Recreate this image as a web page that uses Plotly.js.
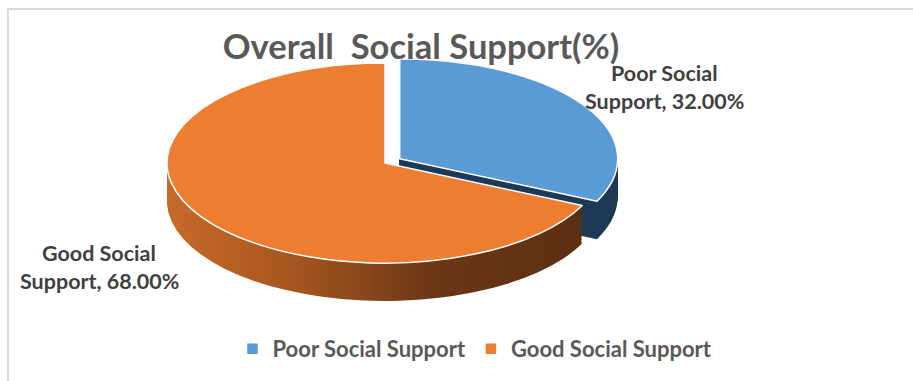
<!DOCTYPE html>
<html><head><meta charset="utf-8">
<script src="https://cdn.plot.ly/plotly-3.0.1.min.js"></script>
<style>
html,body{margin:0;padding:0;background:#fff;}
#wrap{position:relative;width:913px;height:381px;overflow:hidden;}
#chart{width:913px;height:381px;}
#frame{position:absolute;left:7px;top:8px;width:910px;height:380px;border-left:2px solid #d9d9d9;border-top:2px solid #d9d9d9;pointer-events:none;}
.pielayer path{vector-effect:non-scaling-stroke;}
</style>
</head><body><div id="wrap"><div id="chart"></div><div id="frame"></div></div>
<script>
const categories = ["Poor Social Support", "Good Social Support"];
const labelFirstLine = ["Poor Social", "Good Social"];
const labelSecondLine = ["Support", "Support"];
const values = [32.00, 68.00];
const topColors = ["#5b9bd5", "#ed7d31"];
const sideColors = ["#1f3a56", "#8c4716"];
const pulls = [0.08, 0];
const titleText = "Overall\u00a0 Social Support(%)";

const W = 913, H = 381;
const topPx = [10, 290];
const target = {cx: 385, cy: 163, rx: 218, ry: 100, depth: 38};
const maxPull = Math.max(...pulls);
const r0 = (topPx[1] - topPx[0]) / (2 + 2 * maxPull);
const sx = target.rx / r0, sy = target.ry / r0;
const depthU = target.depth / sy;
const N = 26;

function dom(off) {
  return {x: [0, 1], y: [1 - (topPx[1] + off) / H, 1 - (topPx[0] + off) / H]};
}
const base = {
  type: 'pie', labels: categories, values: values, sort: false,
  direction: 'clockwise', rotation: 0, pull: pulls,
  textinfo: 'none', hoverinfo: 'skip'
};
const traces = [];
for (let k = N; k >= 1; k--) {
  traces.push(Object.assign({}, base, {
    domain: dom(depthU * k / N), showlegend: false,
    marker: {colors: sideColors, line: {width: 0}}
  }));
}
traces.push(Object.assign({}, base, {
  domain: dom(0), showlegend: true,
  marker: {colors: topColors, line: {color: '#ffffff', width: 1.5}}
}));

const labelPos = [{x: 664, y: 73}, {x: 99, y: 253}];
const lineGap = 28;
const annotations = [];
categories.forEach((c, i) => {
  const lines = [labelFirstLine[i], labelSecondLine[i] + ", " + values[i].toFixed(2) + "%"];
  lines.forEach((t, j) => {
    annotations.push({
      text: t, showarrow: false, xref: 'paper', yref: 'paper',
      x: labelPos[i].x / W, y: 1 - (labelPos[i].y + j * lineGap) / H,
      xanchor: 'center', yanchor: 'middle',
      font: {family: 'Lato', size: 21.5, weight: 700, color: '#404040'}
    });
  });
});

const layout = {
  width: W, height: H,
  margin: {l: 0, r: 0, t: 0, b: 0},
  paper_bgcolor: '#ffffff',
  title: {text: titleText, x: 421 / W, xanchor: 'center', y: 1 - 47 / H, yanchor: 'middle',
          xref: 'container', yref: 'container',
          font: {family: 'Lato', size: 34.5, weight: 700, color: '#595959'}},
  showlegend: true,
  legend: {orientation: 'h', x: 475 / W, xanchor: 'center', y: 1 - 349 / H, yanchor: 'middle',
           font: {family: 'Lato', size: 22, weight: 700, color: '#595959'}, traceorder: 'normal'},
  annotations: annotations
};

Plotly.newPlot('chart', traces, layout, {staticPlot: true, displayModeBar: false}).then(() => {
  const cx0 = W / 2, cy0 = (topPx[0] + topPx[1]) / 2;
  const svg = document.querySelector('.main-svg');
  const ns = 'http://www.w3.org/2000/svg';
  let defs = svg.querySelector('defs');
  if (!defs) { defs = document.createElementNS(ns, 'defs'); svg.insertBefore(defs, svg.firstChild); }
  const grad = document.createElementNS(ns, 'linearGradient');
  grad.setAttribute('id', 'sideGrad');
  grad.setAttribute('x1', '0'); grad.setAttribute('x2', '1');
  grad.setAttribute('y1', '0'); grad.setAttribute('y2', '0');
  [['0', '#c8692a'], ['0.3', '#a6561e'], ['0.65', '#6a3616'], ['1', '#5c2f12']].forEach(([o, c]) => {
    const s = document.createElementNS(ns, 'stop');
    s.setAttribute('offset', o); s.setAttribute('stop-color', c);
    grad.appendChild(s);
  });
  defs.appendChild(grad);
  const g = document.querySelector('.pielayer');
  const trs = g.querySelectorAll('g.trace');
  trs.forEach((t, i) => {
    if (i < N) {
      const slices = t.querySelectorAll('g.slice');
      if (slices[1]) slices[1].querySelector('path.surface').style.fill = 'url(#sideGrad)';
    }
  });
  g.setAttribute('transform',
    `translate(${target.cx},${target.cy}) scale(${sx},${sy}) translate(${-cx0},${-cy0})`);
});
</script>
</body></html>
